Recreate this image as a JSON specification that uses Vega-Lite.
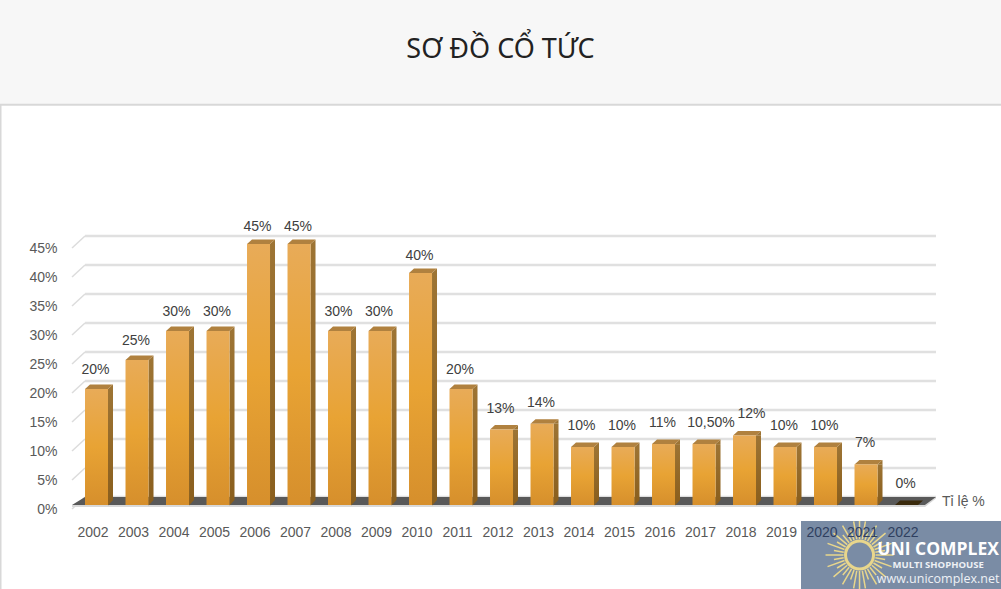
{
"$schema":"https://vega.github.io/schema/vega-lite/v6.json",
"width":1001,"height":589,"padding":0,"autosize":"none","background":"#ffffff",
"config":{"view":{"stroke":null}},
"title":{"text":"SƠ ĐỒ CỔ TỨC","offset":-64,"fontSize":27,"font":"Noto Sans","fontWeight":400,"color":"#222222","anchor":"middle","zindex":1},
"datasets":{
"dividends":[
{"year":2002,"rate":20,"label":"20%"},{"year":2003,"rate":25,"label":"25%"},{"year":2004,"rate":30,"label":"30%"},{"year":2005,"rate":30,"label":"30%"},{"year":2006,"rate":45,"label":"45%"},{"year":2007,"rate":45,"label":"45%"},{"year":2008,"rate":30,"label":"30%"},{"year":2009,"rate":30,"label":"30%"},{"year":2010,"rate":40,"label":"40%"},{"year":2011,"rate":20,"label":"20%"},{"year":2012,"rate":13,"label":"13%"},{"year":2013,"rate":14,"label":"14%"},{"year":2014,"rate":10,"label":"10%"},{"year":2015,"rate":10,"label":"10%"},{"year":2016,"rate":10.5,"label":"11%"},{"year":2017,"rate":10.5,"label":"10,50%"},{"year":2018,"rate":12,"label":"12%"},{"year":2019,"rate":10,"label":"10%"},{"year":2020,"rate":10,"label":"10%"},{"year":2021,"rate":7,"label":"7%"},{"year":2022,"rate":0,"label":"0%"}],
"ticks":[{"v":0},{"v":5},{"v":10},{"v":15},{"v":20},{"v":25},{"v":30},{"v":35},{"v":40},{"v":45}],
"floor":[{"yr":2001.395,"top":0,"bottom":0},{"yr":2001.716,"top":1.38,"bottom":0},{"yr":2022.457,"top":1.38,"bottom":0},{"yr":2022.728,"top":1.38,"bottom":1.38}],
"lip":[{"yr":2001.395,"top":0,"bottom":-0.34},{"yr":2022.457,"top":0,"bottom":-0.34},{"yr":2022.728,"top":1.38,"bottom":1.1}]
},
"layer":[
{"data":{"values":[{"a":1}]},"mark":{"type":"rect","color":"#f7f7f7"},
 "encoding":{
  "x":{"datum":1999.617,"type":"quantitative","scale":{"domain":[1999.617,2024.333],"nice":false,"zero":false,"padding":0},
    "axis":{"orient":"bottom","title":null,"values":[2002,2003,2004,2005,2006,2007,2008,2009,2010,2011,2012,2013,2014,2015,2016,2017,2018,2019,2020,2021,2022],"format":"d","ticks":false,"domain":false,"grid":false,"offset":-64,"labelPadding":0,"labelOffset":-4,"labelFont":"Liberation Sans","labelFontSize":14,"labelColor":{"condition":{"test":"datum.value>=2020","value":"#2f3f5f"},"value":"#595959"},"labelFlush":false,"labelOverlap":false,"labelBound":false,"zindex":1}},
  "x2":{"datum":2024.333},
  "y":{"datum":69.14,"type":"quantitative","scale":{"domain":[-14.483,87.07],"nice":false,"zero":false,"padding":0},
    "axis":{"orient":"left","title":null,"values":[0,5,10,15,20,25,30,35,40,45],"labelExpr":"datum.value+'%'","ticks":false,"domain":false,"grid":false,"offset":-57,"labelPadding":0,"labelOffset":4.5,"labelFont":"Liberation Sans","labelFontSize":14,"labelColor":"#595959","labelFlush":false,"labelOverlap":false,"labelBound":false,"zindex":1}},
  "y2":{"datum":87.07}}},
{"data":{"values":[{"a":1}]},"mark":{"type":"rule","color":"#d8d8d8","strokeWidth":2},
 "encoding":{"x":{"datum":1999.617,"type":"quantitative"},"x2":{"datum":2024.333},"y":{"datum":69.0,"type":"quantitative"}}},
{"data":{"values":[{"a":1}]},"mark":{"type":"rule","color":"#d8d8d8","strokeWidth":2},
 "encoding":{"x":{"datum":1999.63,"type":"quantitative"},"y":{"datum":69.0,"type":"quantitative"},"y2":{"datum":-14.483}}},
{"data":{"name":"ticks"},"mark":{"type":"rule","color":"#e0e0e0","strokeWidth":2.5,"yOffset":-8},
 "encoding":{"x":{"datum":2001.716,"type":"quantitative"},"x2":{"datum":2022.728},"y":{"field":"v","type":"quantitative"}}},
{"data":{"name":"ticks"},"mark":{"type":"rule","color":"#dcdcdc","strokeWidth":1.5,"yOffset":4,"y2Offset":-8},
 "encoding":{"x":{"datum":2001.395,"type":"quantitative"},"x2":{"datum":2001.716},"y":{"field":"v","type":"quantitative"},"y2":{"field":"v"}}},
{"data":{"name":"lip"},"mark":{"type":"area","color":"#d9d9d9"},
 "encoding":{"x":{"field":"yr","type":"quantitative"},"y":{"field":"top","type":"quantitative","stack":null},"y2":{"field":"bottom"}}},
{"data":{"name":"floor"},"mark":{"type":"area","color":"#595959"},
 "encoding":{"x":{"field":"yr","type":"quantitative"},"y":{"field":"top","type":"quantitative","stack":null},"y2":{"field":"bottom"}}},
{"data":{"name":"dividends"},"transform":[{"filter":"datum.rate>0"}],"mark":{"type":"bar","orient":"vertical","size":5,"xOffset":14,"y2Offset":-5,"color":{"x1":0,"y1":0,"x2":0,"y2":1,"gradient":"linear","stops":[{"offset":0,"color":"#9d7434"},{"offset":1,"color":"#8a5f1e"}]}},
 "encoding":{"x":{"field":"year","type":"quantitative"},"y":{"field":"rate","type":"quantitative","stack":null},"y2":{"datum":0}}},
{"data":{"name":"dividends"},"transform":[{"filter":"datum.rate>0"}],"mark":{"type":"point","shape":"M11.5 0L16.5 -4.5L16.5 0Z","size":4,"filled":true,"opacity":1,"strokeWidth":0,"color":"#9d7434"},
 "encoding":{"x":{"field":"year","type":"quantitative"},"y":{"field":"rate","type":"quantitative"}}},
{"data":{"name":"dividends"},"transform":[{"filter":"datum.rate>0"}],"mark":{"type":"point","shape":"M11.5 0.5L16.5 -5L11.5 -5Z","size":4,"filled":true,"opacity":1,"strokeWidth":0,"color":"#8a5f1e"},
 "encoding":{"x":{"field":"year","type":"quantitative"},"y":{"datum":0,"type":"quantitative"}}},
{"data":{"name":"dividends"},"transform":[{"filter":"datum.rate>0"}],"mark":{"type":"point","shape":"M-11.5 0L11.5 0L16.5 -4.5L-6.5 -4.5Z","size":4,"filled":true,"opacity":1,"strokeWidth":0,"color":"#b0813f"},
 "encoding":{"x":{"field":"year","type":"quantitative"},"y":{"field":"rate","type":"quantitative"}}},
{"data":{"name":"dividends"},"transform":[{"filter":"datum.rate==0"}],"mark":{"type":"point","shape":"M-11.5 0L11.5 0L16.5 -4.5L-6.5 -4.5Z","size":4,"filled":true,"opacity":1,"strokeWidth":0,"color":"#3a2a0c"},
 "encoding":{"x":{"field":"year","type":"quantitative"},"y":{"field":"rate","type":"quantitative"}}},
{"data":{"name":"dividends"},"transform":[{"filter":"datum.rate>0"}],"mark":{"type":"bar","orient":"vertical","size":23,"color":{"x1":0,"y1":0,"x2":0,"y2":1,"gradient":"linear","stops":[{"offset":0,"color":"#e8ab58"},{"offset":0.5,"color":"#e8a334"},{"offset":1,"color":"#d68f2c"}]}},
 "encoding":{"x":{"field":"year","type":"quantitative"},"y":{"field":"rate","type":"quantitative","stack":null},"y2":{"datum":0}}},
{"data":{"name":"dividends"},"transform":[{"filter":"datum.rate>=40"}],"mark":{"type":"text","font":"Liberation Sans","fontSize":14,"color":"#404040","dx":-1,"dy":-17.5},
 "encoding":{"x":{"field":"year","type":"quantitative"},"y":{"field":"rate","type":"quantitative"},"text":{"field":"label"}}},
{"data":{"name":"dividends"},"transform":[{"filter":"datum.rate>=20 && datum.rate<40"}],"mark":{"type":"text","font":"Liberation Sans","fontSize":14,"color":"#404040","dx":-1,"dy":-19},
 "encoding":{"x":{"field":"year","type":"quantitative"},"y":{"field":"rate","type":"quantitative"},"text":{"field":"label"}}},
{"data":{"name":"dividends"},"transform":[{"filter":"datum.rate<20 && datum.year!=2017 && datum.year!=2018"}],"mark":{"type":"text","font":"Liberation Sans","fontSize":14,"color":"#404040","dx":-1,"dy":-21},
 "encoding":{"x":{"field":"year","type":"quantitative"},"y":{"field":"rate","type":"quantitative"},"text":{"field":"label"}}},
{"data":{"name":"dividends"},"transform":[{"filter":"datum.year==2017 || datum.year==2018"}],"mark":{"type":"text","font":"Liberation Sans","fontSize":14,"color":"#404040","dx":7,"dy":-21},
 "encoding":{"x":{"field":"year","type":"quantitative"},"y":{"field":"rate","type":"quantitative"},"text":{"field":"label"}}},
{"data":{"values":[{"t":"Tỉ lệ %","yr":2022.877,"v":0.52}]},"mark":{"type":"text","font":"Liberation Sans","fontSize":14,"color":"#595959","align":"left"},
 "encoding":{"x":{"field":"yr","type":"quantitative"},"y":{"field":"v","type":"quantitative"},"text":{"field":"t"}}},
{"data":{"values":[{"a":1}]},"mark":{"type":"rect","color":"#7a8ca5"},
 "encoding":{"x":{"datum":2019.395,"type":"quantitative"},"x2":{"datum":2024.333},"y":{"datum":-2.76,"type":"quantitative"},"y2":{"datum":-14.483}}},
{"data":{"values":[{"yr":2020.84,"v":-8.62}]},"mark":{"type":"point","size":4,"opacity":1,"filled":false,"strokeWidth":1.5,"color":"#e8d68c","shape":"M16 0L34 0M-16 0L-34 0M0 16L0 34M0 -16L0 -34M15.8 2.8L25.6 4.5M-15.8 2.8L-25.6 4.5M15.8 -2.8L25.6 -4.5M-15.8 -2.8L-25.6 -4.5M15 5.5L32 11.6M-15 5.5L-32 11.6M15 -5.5L32 -11.6M-15 -5.5L-32 -11.6M13.9 8L22.5 13M-13.9 8L-22.5 13M13.9 -8L22.5 -13M-13.9 -8L-22.5 -13M12.3 10.3L26 21.9M-12.3 10.3L-26 21.9M12.3 -10.3L26 -21.9M-12.3 -10.3L-26 -21.9M10.3 12.3L16.7 19.9M-10.3 12.3L-16.7 19.9M10.3 -12.3L16.7 -19.9M-10.3 -12.3L-16.7 -19.9M8 13.9L17 29.4M-8 13.9L-17 29.4M8 -13.9L17 -29.4M-8 -13.9L-17 -29.4M5.5 15L8.9 24.4M-5.5 15L-8.9 24.4M5.5 -15L8.9 -24.4M-5.5 -15L-8.9 -24.4M2.8 15.8L5.9 33.5M-2.8 15.8L-5.9 33.5M2.8 -15.8L5.9 -33.5M-2.8 -15.8L-5.9 -33.5"},
 "encoding":{"x":{"field":"yr","type":"quantitative"},"y":{"field":"v","type":"quantitative"}}},
{"data":{"values":[{"yr":2020.84,"v":-8.62}]},"mark":{"type":"point","size":4,"opacity":1,"filled":false,"strokeWidth":3,"color":"#e8d68c","shape":"M14 0A14 14 0 1 0 -14 0A14 14 0 1 0 14 0Z"},
 "encoding":{"x":{"field":"yr","type":"quantitative"},"y":{"field":"v","type":"quantitative"}}},
{"data":{"values":[{"t":"UNI COMPLEX","yr":2022.78,"v":-7.76}]},"mark":{"type":"text","font":"Open Sans","fontWeight":"bold","fontSize":17.5,"color":"#ffffff"},
 "encoding":{"x":{"field":"yr","type":"quantitative"},"y":{"field":"v","type":"quantitative"},"text":{"field":"t"}}},
{"data":{"values":[{"t":"MULTI SHOPHOUSE","yr":2022.78,"v":-10.34}]},"mark":{"type":"text","font":"Open Sans","fontWeight":"bold","fontSize":9.5,"color":"#eef1f5"},
 "encoding":{"x":{"field":"yr","type":"quantitative"},"y":{"field":"v","type":"quantitative"},"text":{"field":"t"}}},
{"data":{"values":[{"t":"www.unicomplex.net","yr":2022.78,"v":-12.76}]},"mark":{"type":"text","font":"Open Sans","fontSize":12.5,"color":"#eef1f5"},
 "encoding":{"x":{"field":"yr","type":"quantitative"},"y":{"field":"v","type":"quantitative"},"text":{"field":"t"}}}
]
}
